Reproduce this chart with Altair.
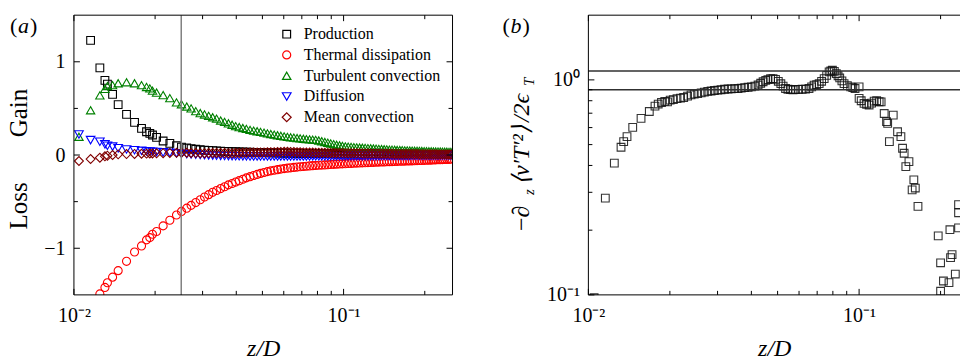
import altair as alt
import pandas as pd

SERIF = "Liberation Serif"

# ---------------- panel (a): budget terms against z/D ----------------
Z_A = [
    0.01044, 0.01153, 0.01248, 0.01303, 0.01331, 0.01391, 0.01459, 0.01567, 0.01678, 0.01781,
    0.01859, 0.01912, 0.01956, 0.02025, 0.02142, 0.02268, 0.02401, 0.02505, 0.0262, 0.0272,
    0.0283, 0.0294, 0.0305, 0.0316, 0.0327, 0.0338, 0.035, 0.0362, 0.0374, 0.0386,
    0.0398, 0.041, 0.0423, 0.0436, 0.045, 0.0464, 0.0478, 0.0492, 0.0507, 0.0522,
    0.0537, 0.0553, 0.0569, 0.0585, 0.0602, 0.0619, 0.0636, 0.0654, 0.0672, 0.069,
    0.0709, 0.0728, 0.0748, 0.0768, 0.0788, 0.0809, 0.083, 0.0852, 0.0874, 0.0896,
    0.0919, 0.0942, 0.0966, 0.099, 0.1015, 0.104, 0.1066, 0.1092, 0.1119, 0.1146,
    0.1174, 0.1202, 0.1231, 0.126, 0.129, 0.132, 0.1351, 0.1382, 0.1414, 0.1446,
    0.1479, 0.1512, 0.1546, 0.158, 0.1615, 0.165, 0.1686, 0.1722, 0.1759, 0.1796,
    0.1834, 0.1872, 0.1911, 0.195, 0.199, 0.203, 0.2071, 0.2112, 0.2154, 0.2196,
    0.2239, 0.2282, 0.2326, 0.237, 0.2415, 0.246, 0.25,
]

PRODUCTION = [
    None, 1.23, 0.935, 0.80, 0.76, 0.65, 0.54, 0.436, 0.35, 0.286,
    0.25, 0.232, 0.215, 0.19, 0.15, 0.125, 0.10, 0.085, 0.075, 0.068,
    0.062, 0.057, 0.053, 0.05, 0.047, 0.044, 0.042, 0.04, 0.038, 0.036,
    0.035, 0.033, 0.032, 0.031, 0.03, 0.029, 0.028, 0.027, 0.026, 0.025,
    0.024, 0.024, 0.023, 0.022, 0.022, 0.021, 0.02, 0.02, 0.019, 0.019,
    0.018, 0.018, 0.017, 0.017, 0.016, 0.016, 0.016, 0.015, 0.015, 0.015,
    0.014, 0.014, 0.014, 0.013, 0.013, 0.013, 0.013, 0.012, 0.012, 0.012,
    0.012, 0.011, 0.011, 0.011, 0.011, 0.011, 0.010, 0.010, 0.010, 0.010,
    0.010, 0.009, 0.009, 0.009, 0.009, 0.009, 0.009, 0.008, 0.008, 0.008,
    0.008, 0.008, 0.008, 0.008, 0.007, 0.007, 0.007, 0.007, 0.007, 0.007,
    0.007, 0.006, 0.006, 0.006, 0.006, 0.006, 0.006,
]

THERMAL_DISSIPATION = [
    None, None, -1.49, -1.42, -1.37, -1.31, -1.24, -1.14, -1.04, -0.975,
    -0.91, -0.886, -0.85, -0.82, -0.76, -0.70, -0.643, -0.605, -0.57, -0.54,
    -0.51, -0.48, -0.45, -0.425, -0.40, -0.38, -0.36, -0.34, -0.32, -0.305,
    -0.29, -0.275, -0.26, -0.245, -0.232, -0.22, -0.208, -0.197, -0.187, -0.178,
    -0.17, -0.163, -0.157, -0.151, -0.146, -0.141, -0.137, -0.133, -0.129, -0.126,
    -0.123, -0.12, -0.117, -0.114, -0.112, -0.11, -0.108, -0.106, -0.104, -0.102,
    -0.1, -0.098, -0.096, -0.095, -0.093, -0.091, -0.09, -0.088, -0.087, -0.085,
    -0.084, -0.082, -0.081, -0.08, -0.078, -0.077, -0.076, -0.075, -0.074, -0.072,
    -0.071, -0.07, -0.069, -0.068, -0.067, -0.066, -0.065, -0.064, -0.063, -0.062,
    -0.061, -0.06, -0.059, -0.058, -0.057, -0.056, -0.055, -0.054, -0.053, -0.052,
    -0.051, -0.05, -0.049, -0.048, -0.047, -0.046, -0.045,
]

TURBULENT_CONVECTION = [
    0.196, 0.48, 0.64, 0.71, 0.74, 0.75, 0.77, 0.78, 0.77, 0.75,
    0.73, 0.715, 0.69, 0.67, 0.643, 0.61, 0.565, 0.545, 0.52, 0.50,
    0.47, 0.45, 0.435, 0.42, 0.405, 0.39, 0.37, 0.355, 0.34, 0.325,
    0.31, 0.30, 0.29, 0.28, 0.27, 0.262, 0.255, 0.248, 0.24, 0.232,
    0.225, 0.218, 0.212, 0.206, 0.2, 0.195, 0.19, 0.186, 0.182, 0.178,
    0.174, 0.17, 0.167, 0.165, 0.162, 0.156, 0.148, 0.14, 0.132, 0.124,
    0.117, 0.11, 0.104, 0.098, 0.093, 0.09, 0.087, 0.085, 0.082, 0.08,
    0.078, 0.076, 0.074, 0.072, 0.07, 0.068, 0.066, 0.064, 0.062, 0.06,
    0.058, 0.057, 0.056, 0.054, 0.053, 0.052, 0.05, 0.049, 0.048, 0.047,
    0.046, 0.045, 0.044, 0.043, 0.042, 0.041, 0.04, 0.04, 0.039, 0.038,
    0.037, 0.037, 0.036, 0.035, 0.035, 0.034, 0.034,
]

DIFFUSION = [
    0.22, 0.16, 0.143, 0.115, 0.10, 0.09, 0.072, 0.06, 0.052, 0.045,
    0.04, 0.037, 0.035, 0.032, 0.028, 0.023, 0.018, 0.014, 0.01, 0.007,
    0.004, 0.001, -0.002, -0.004, -0.006, -0.008, -0.009, -0.01, -0.011, -0.012,
    -0.013, -0.013, -0.014, -0.014, -0.015, -0.015, -0.015, -0.016, -0.016, -0.016,
    -0.016, -0.016, -0.016, -0.016, -0.016, -0.016, -0.016, -0.016, -0.015, -0.015,
    -0.015, -0.015, -0.015, -0.014, -0.014, -0.014, -0.014, -0.014, -0.014, -0.013,
    -0.013, -0.013, -0.013, -0.013, -0.013, -0.012, -0.012, -0.012, -0.012, -0.012,
    -0.012, -0.011, -0.011, -0.011, -0.011, -0.011, -0.011, -0.010, -0.010, -0.010,
    -0.010, -0.010, -0.010, -0.009, -0.009, -0.009, -0.009, -0.009, -0.009, -0.008,
    -0.008, -0.008, -0.008, -0.008, -0.008, -0.007, -0.007, -0.007, -0.007, -0.007,
    -0.007, -0.006, -0.006, -0.006, -0.006, -0.006, -0.006,
]

MEAN_CONVECTION = [
    -0.064, -0.043, -0.029, -0.014, -0.007, 0.0, 0.007, 0.01, 0.012, 0.014,
    0.015, 0.016, 0.017, 0.018, 0.02, 0.022, 0.024, 0.025, 0.024, 0.022,
    0.021, 0.02, 0.02, 0.021, 0.022, 0.023, 0.022, 0.021, 0.02, 0.02,
    0.021, 0.022, 0.024, 0.025, 0.026, 0.026, 0.027, 0.028, 0.028, 0.029,
    0.03, 0.031, 0.032, 0.033, 0.034, 0.034, 0.033, 0.032, 0.03, 0.029,
    0.028, 0.027, 0.026, 0.026, 0.025, 0.025, 0.024, 0.024, 0.023, 0.023,
    0.022, 0.022, 0.021, 0.021, 0.02, 0.02, 0.019, 0.019, 0.018, 0.018,
    0.017, 0.017, 0.016, 0.016, 0.015, 0.015, 0.015, 0.014, 0.014, 0.013,
    0.013, 0.013, 0.012, 0.012, 0.012, 0.011, 0.011, 0.011, 0.010, 0.010,
    0.010, 0.010, 0.009, 0.009, 0.009, 0.009, 0.008, 0.008, 0.008, 0.008,
    0.007, 0.007, 0.007, 0.007, 0.006, 0.006, 0.006,
]

TERMS = ["Production", "Thermal dissipation", "Turbulent convection", "Diffusion", "Mean convection"]
TERM_VALUES = [PRODUCTION, THERMAL_DISSIPATION, TURBULENT_CONVECTION, DIFFUSION, MEAN_CONVECTION]
TERM_COLORS = ["#000000", "#ff0000", "#008000", "#0000ff", "#800000"]
TERM_SHAPES = ["square", "circle", "triangle-up", "triangle-down", "diamond"]
TERM_SIZES = [60, 80, 100, 100, 100]
Z_MARKER = [0.025]

# ---------------- panel (b): normalised gradient of turbulent flux ----------------
Z_B = [
    0.0105, 0.01155, 0.01247, 0.0132, 0.0135, 0.01389, 0.01458, 0.01565, 0.01679, 0.01762,
    0.01811, 0.01862, 0.01915, 0.0196, 0.02005, 0.0206, 0.02125, 0.0219, 0.02249, 0.02325,
    0.02394, 0.0246, 0.02533, 0.0261, 0.02682, 0.0276, 0.0284, 0.0292, 0.03006, 0.0309,
    0.03183, 0.0328, 0.0337, 0.0347, 0.03569, 0.0367, 0.03778, 0.0389, 0.04, 0.0412,
    0.04235, 0.0433, 0.0442, 0.0452, 0.04605, 0.0471, 0.0481, 0.0491, 0.0503, 0.0514,
    0.0524, 0.0535, 0.0546, 0.0558, 0.057, 0.0582, 0.0598, 0.0616, 0.0634, 0.0653,
    0.0668, 0.0682, 0.0697, 0.0712, 0.0727, 0.0743, 0.0759, 0.0775, 0.0786, 0.0797,
    0.081, 0.0824, 0.0836, 0.0848, 0.0864, 0.088, 0.0905, 0.0931, 0.0948, 0.0966,
    0.1, 0.1, 0.1018, 0.1043, 0.1066, 0.1089, 0.1112, 0.1137, 0.1161, 0.1186,
    0.1206, 0.1238, 0.1263, 0.1275, 0.1294, 0.1337, 0.1387, 0.1427, 0.1447, 0.1467,
    0.1488, 0.1528, 0.157, 0.1593, 0.1613, 0.165, 0.196, 0.2, 0.2, 0.2049,
    0.2148, 0.2165, 0.2177, 0.2205, 0.2267, 0.233, 0.233, 0.233,
]
RATIO_B = [
    0.097, 0.282, 0.41, 0.486, 0.516, 0.545, 0.601, 0.662, 0.713, 0.755,
    0.772, 0.785, 0.795, 0.79, 0.805, 0.81, 0.818, 0.822, 0.828, 0.84,
    0.852, 0.858, 0.864, 0.87, 0.877, 0.884, 0.888, 0.893, 0.896, 0.9,
    0.905, 0.907, 0.909, 0.91, 0.912, 0.915, 0.92, 0.924, 0.928, 0.935,
    0.947, 0.965, 0.98, 0.995, 1.003, 1.012, 1.014, 1.005, 0.985, 0.96,
    0.935, 0.912, 0.905, 0.902, 0.9, 0.902, 0.903, 0.905, 0.906, 0.912,
    0.928, 0.945, 0.95, 0.961, 0.985, 1.014, 1.05, 1.089, 1.1, 1.109,
    1.095, 1.07, 1.045, 1.021, 0.99, 0.961, 0.94, 0.928, 0.92, 0.912,
    0.928, 0.82, 0.8, 0.777, 0.77, 0.764, 0.78, 0.797, 0.8, 0.791,
    0.79, 0.698, 0.639, 0.628, 0.516, 0.686, 0.574, 0.545, 0.481, 0.456,
    0.395, 0.417, 0.308, 0.343, 0.314, 0.258, 0.188, 0.104, 0.141, 0.116,
    0.114, 0.201, 0.149, 0.154, 0.125, 0.205, 0.241, 0.263,
]
RATIO_LEVELS = [0.9, 1.1]

# tick positions
X_MAJOR = [0.01, 0.1]
X_MINOR = [0.02, 0.03, 0.04, 0.05, 0.06, 0.07, 0.08, 0.09, 0.2]
YA_MAJOR = [-1, 0, 1]
YA_MINOR = [-0.5, 0.5]
YB_MAJOR = [0.1, 1]
YB_MINOR = [0.2, 0.3, 0.4, 0.5, 0.6, 0.7, 0.8, 0.9]

W_A, W_B, H = 379, 372, 280
MAJOR_LEN, MINOR_LEN = 6, 4

xa = alt.Scale(type="log", domain=[0.01, 0.2535], nice=False)
ya = alt.Scale(domain=[-1.5, 1.5], nice=False, zero=False)
xb = alt.Scale(type="log", domain=[0.01, 0.2359], nice=False)
yb = alt.Scale(type="log", domain=[0.1, 2.0], nice=False)

AXIS_STYLE = dict(
    ticks=False, domain=False, grid=False, labelFont=SERIF, labelFontSize=20,
    labelColor="black", labelFlush=False,
)

# one axis object per channel, shared by every layer on that channel
X_AXIS = alt.Axis(
    values=X_MAJOR,
    labelExpr="datum.value < 0.05 ? '10\u207b\u00b2' : '10\u207b\u00b9'",
    labelPadding=11, title="z/D", titleFont=SERIF, titleFontSize=24,
    titleFontStyle="italic", titleFontWeight="normal", titleColor="black",
    titlePadding=11, **AXIS_STYLE,
)
YA_AXIS = alt.Axis(values=YA_MAJOR, labelPadding=9, title="", **AXIS_STYLE)
YB_AXIS = alt.Axis(
    values=YB_MAJOR, labelExpr="datum.value < 0.5 ? '10\u207b\u00b9' : '10\u2070'",
    labelPadding=9, title="", **AXIS_STYLE,
)


def frame(w, sides):
    d = pd.DataFrame({"k": [0]})
    rule = alt.Chart(d).mark_rule(color="black", strokeWidth=1)
    out = []
    if "top" in sides:
        out.append(rule.encode(x=alt.value(0), x2=alt.value(w), y=alt.value(0)))
    if "bottom" in sides:
        out.append(rule.encode(x=alt.value(0), x2=alt.value(w), y=alt.value(H)))
    if "left" in sides:
        out.append(rule.encode(x=alt.value(0), y=alt.value(0), y2=alt.value(H)))
    if "right" in sides:
        out.append(rule.encode(x=alt.value(w), y=alt.value(0), y2=alt.value(H)))
    return out


def x_ticks(values, scale, length):
    rule = alt.Chart(pd.DataFrame({"tick": values})).mark_rule(color="black", strokeWidth=1)
    x = alt.X("tick:Q", scale=scale, axis=X_AXIS)
    return [
        rule.encode(x=x, y=alt.value(H), y2=alt.value(H - length)),
        rule.encode(x=x, y=alt.value(0), y2=alt.value(length)),
    ]


def y_ticks(values, scale, axis, length, w=None):
    rule = alt.Chart(pd.DataFrame({"tick": values})).mark_rule(color="black", strokeWidth=1)
    y = alt.Y("tick:Q", scale=scale, axis=axis)
    out = [rule.encode(y=y, x=alt.value(0), x2=alt.value(length))]
    if w is not None:
        out.append(rule.encode(y=y, x=alt.value(w), x2=alt.value(w - length)))
    return out


def text(s, x, y, size, angle=0, style="normal", align="center"):
    opts = dict(font=SERIF, fontSize=size, fontStyle=style, align=align,
                baseline="middle", color="black")
    if angle:
        opts["angle"] = angle
    return alt.Chart(pd.DataFrame({"t": [s]})).mark_text(**opts).encode(
        text="t:N", x=alt.value(x), y=alt.value(y)
    )


def panel_tag(letter, x):
    # upright parentheses around an italic letter
    return [
        text("(", x, 11, 22, align="left"),
        text(letter, x + 8, 11, 22, style="italic", align="left"),
        text(")", x + 20, 11, 22, align="left"),
    ]


# ---- panel (a) ----
rows = []
for name, vals in zip(TERMS, TERM_VALUES):
    assert len(vals) == len(Z_A)
    for z, v in zip(Z_A, vals):
        if v is not None:
            rows.append({"z": z, "value": v, "term": name})
df_a = pd.DataFrame(rows)

legend = alt.Legend(
    title=None, orient="none", legendX=205, legendY=11, padding=0,
    labelFont=SERIF, labelFontSize=16, labelColor="black", labelOffset=9,
    symbolSize=130, symbolStrokeWidth=1.2, rowPadding=4.8, labelLimit=300,
)

points_a = alt.Chart(df_a).mark_point(filled=False, opacity=1, strokeWidth=1.1, clip=True).encode(
    x=alt.X("z:Q", scale=xa, axis=X_AXIS),
    y=alt.Y("value:Q", scale=ya, axis=YA_AXIS),
    color=alt.Color("term:N", scale=alt.Scale(domain=TERMS, range=TERM_COLORS), legend=legend),
    shape=alt.Shape("term:N", scale=alt.Scale(domain=TERMS, range=TERM_SHAPES), legend=legend),
    size=alt.Size("term:N", scale=alt.Scale(domain=TERMS, range=TERM_SIZES), legend=None),
)

marker_a = alt.Chart(pd.DataFrame({"z": Z_MARKER})).mark_rule(
    color="#808080", strokeWidth=1.5
).encode(x=alt.X("z:Q", scale=xa, axis=X_AXIS))

panel_a = alt.layer(
    points_a,
    marker_a,
    *x_ticks(X_MAJOR, xa, MAJOR_LEN),
    *x_ticks(X_MINOR, xa, MINOR_LEN),
    *y_ticks(YA_MAJOR, ya, YA_AXIS, MAJOR_LEN, W_A),
    *y_ticks(YA_MINOR, ya, YA_AXIS, MINOR_LEN, W_A),
    *frame(W_A, ("top", "bottom", "left", "right")),
    *panel_tag("a", -64),
    text("Gain", -55, 98, 25, angle=270),
    text("Loss", -55, 191, 25, angle=270),
).properties(width=W_A, height=H)

# ---- panel (b) ----
df_b = pd.DataFrame({"z": Z_B, "ratio": RATIO_B})

points_b = alt.Chart(df_b).mark_point(
    shape="square", filled=False, opacity=0.85, strokeWidth=1.1, size=60, color="#111111", clip=True
).encode(
    x=alt.X("z:Q", scale=xb, axis=X_AXIS),
    y=alt.Y("ratio:Q", scale=yb, axis=YB_AXIS),
)

levels_b = alt.Chart(pd.DataFrame({"level": RATIO_LEVELS})).mark_rule(
    color="#303030", strokeWidth=1.3
).encode(y=alt.Y("level:Q", scale=yb, axis=YB_AXIS))

panel_b = alt.layer(
    points_b,
    levels_b,
    *x_ticks(X_MAJOR, xb, MAJOR_LEN),
    *x_ticks(X_MINOR, xb, MINOR_LEN),
    *y_ticks(YB_MAJOR, yb, YB_AXIS, MAJOR_LEN),
    *y_ticks(YB_MINOR, yb, YB_AXIS, MINOR_LEN),
    *frame(W_B, ("top", "bottom", "left")),
    *panel_tag("b", -86),
    text("\u2212\u2202", -66, 216, 24, angle=270, align="left"),
    text("z", -59, 180, 15, angle=270, style="italic", align="left"),
    text("\u27e8v\u2032T\u2032\u00b2\u27e9", -66, 170, 24, angle=270, style="italic", align="left"),
    text("/2\u03f5", -66, 107, 24, angle=270, style="italic", align="left"),
    text("T", -59, 71, 15, angle=270, style="italic", align="left"),
).properties(width=W_B, height=H)

chart = alt.hconcat(panel_a, panel_b, spacing=136, bounds="flush").properties(
    padding={"left": 7, "top": 14, "right": 0, "bottom": 0},
    background="white",
).configure(font=SERIF).configure_view(stroke="transparent", strokeWidth=0)

chart.save("out.html", embed_options={"renderer": "svg", "actions": False})
